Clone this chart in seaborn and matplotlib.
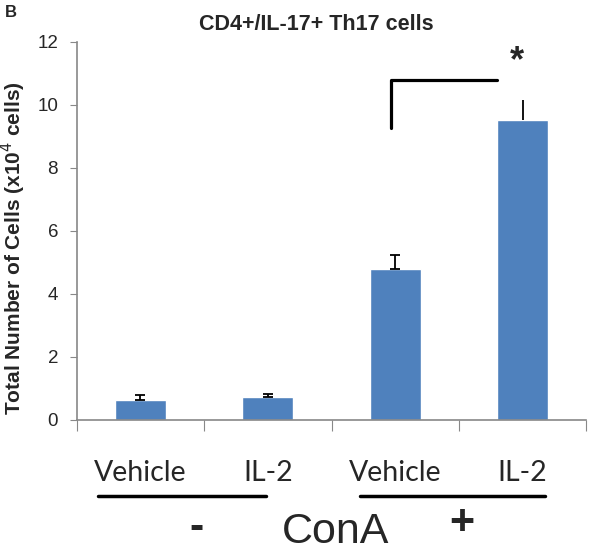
import matplotlib
matplotlib.use('Agg')
import matplotlib.pyplot as plt
import seaborn as sns
import pandas as pd
import numpy as np

# data
groups = ['Vehicle', 'IL-2', 'Vehicle', 'IL-2']
conditions = ['-', '-', '+', '+']
cells = [0.62, 0.72, 4.8, 9.5]
errors = [0.16, 0.11, 0.42, 0.66]
bracket_low, bracket_high = 9.25, 10.8

df = pd.DataFrame({'pos': [0, 1, 2, 3], 'group': groups, 'cells': cells})

sns.set_style('white')
plt.rcParams['font.family'] = ['Liberation Sans', 'DejaVu Sans']

fig = plt.figure(figsize=(6, 5.56), dpi=100)
ax = fig.add_axes([0.128, 0.245, 0.849, 0.68])

sns.barplot(data=df, x='pos', y='cells', color='#4F81BD', saturation=1,
            width=0.4, errorbar=None, ax=ax)
# upper error bars only, Excel style (no cap on the tallest one)
for i, (p, v, e) in enumerate(zip(df['pos'], cells, errors)):
    ax.errorbar(p, v, yerr=[[0], [e]], fmt='none', ecolor='black',
                elinewidth=1.3, capsize=0 if i == 3 else 3.5, capthick=1.3)

ax.set_xlim(-0.5, 3.5)
ax.set_ylim(0, 12)
ax.set_yticks(range(0, 13, 2))
ax.set_xticks([-0.5, 0.5, 1.5, 2.5, 3.5])
ax.set_xticklabels([])
ax.set_xlabel('')
ax.set_ylabel('Total Number of Cells (x10$^4$ cells)', fontsize=15, fontweight='bold')
ax.yaxis.set_label_coords(-0.096, 0.455)
ax.tick_params(axis='y', labelsize=13.5, length=5, direction='out', color='#888888',
               left=True, pad=8.5)
ax.tick_params(axis='x', length=8, direction='out', color='#888888', bottom=True)
for side in ['top', 'right']:
    ax.spines[side].set_visible(False)
for side in ['left', 'bottom']:
    ax.spines[side].set_color('#888888')
    ax.spines[side].set_linewidth(1.2)

fig.text(0.527, 1 - 24 / 556, 'CD4+/IL-17+ Th17 cells', fontsize=15.5,
         fontweight='bold', ha='center', va='center')
fig.text(0.008, 1 - 5 / 556, 'B', fontsize=12, fontweight='bold', va='top')

# significance bracket
ax.plot([1.97, 1.97, 2.8], [bracket_low, bracket_high, bracket_high],
        color='black', lw=2.3, clip_on=False)
ax.text(2.96, bracket_high + 0.57, '*', fontsize=26, fontweight='bold',
        ha='center', va='center')

# category labels below the axis
trans = ax.get_xaxis_transform()
for p, g in zip(df['pos'], groups):
    ax.text(p, -0.161, g, transform=trans, ha='center', va='baseline',
            fontsize=20.5, family=['Lato', 'DejaVu Sans'])
ax.plot([-0.335, 0.985], [-0.201, -0.201], transform=trans, color='black',
        lw=2.5, clip_on=False)
ax.plot([1.724, 3.178], [-0.201, -0.201], transform=trans, color='black',
        lw=2.5, clip_on=False)
ax.text(0.443, -0.286, conditions[0], transform=trans, ha='center', va='center',
        fontsize=31, fontweight='bold')
ax.text(1.528, -0.325, 'ConA', transform=trans, ha='center', va='baseline',
        fontsize=31)
ax.text(2.526, -0.272, conditions[2], transform=trans, ha='center', va='center',
        fontsize=31, fontweight='bold')

fig.savefig('out.png', dpi=100)
